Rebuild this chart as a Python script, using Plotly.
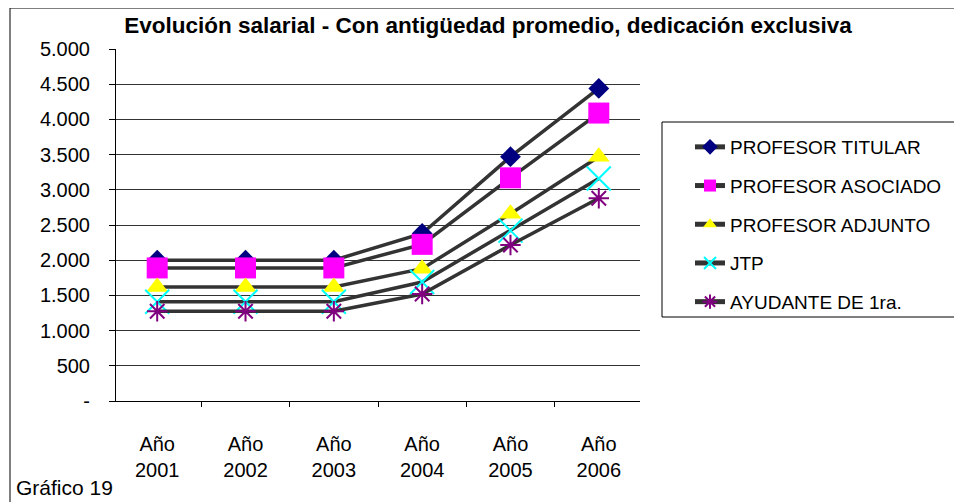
import plotly.graph_objects as go

# data
years = ["Año<br>2001", "Año<br>2002", "Año<br>2003", "Año<br>2004", "Año<br>2005", "Año<br>2006"]
profesor_titular = [2000, 2000, 2000, 2380, 3470, 4440]
profesor_asociado = [1890, 1890, 1890, 2225, 3170, 4090]
profesor_adjunto = [1620, 1620, 1620, 1880, 2660, 3470]
jtp = [1410, 1410, 1410, 1690, 2420, 3160]
ayudante_1ra = [1275, 1275, 1275, 1520, 2215, 2880]

y_ticks = [0, 500, 1000, 1500, 2000, 2500, 3000, 3500, 4000, 4500, 5000]
y_ticktext = ["-", "500", "1.000", "1.500", "2.000", "2.500", "3.000", "3.500", "4.000", "4.500", "5.000"]

# the page body adds an 8px margin, so the figure is shrunk and shifted by that
OFF = 8
W, H = 962 - OFF, 502 - OFF
L, R, T, B = 116 - OFF, 640 - OFF, 49 - OFF, 401 - OFF  # plot area in figure pixels


def px(x):  # x in screen pixels -> paper
    return (x - OFF - L) / (R - L)


def py(y):
    return (B - (y - OFF)) / (B - T)


series = [
    ("PROFESOR TITULAR", profesor_titular, dict(symbol="diamond", size=16, color="#000080")),
    ("PROFESOR ASOCIADO", profesor_asociado, dict(symbol="square", size=21, color="#FF00FF")),
    ("PROFESOR ADJUNTO", profesor_adjunto, dict(symbol="triangle-up", size=19, color="#FFFF00")),
    ("JTP", jtp, dict(symbol="x-thin-open", size=24, color="#00FFFF", line=dict(width=2, color="#00FFFF"))),
    ("AYUDANTE DE 1ra.", ayudante_1ra, dict(symbol="asterisk-open", size=17, color="#800080", line=dict(width=2, color="#800080"))),
]

fig = go.Figure()
for i, (name, vals, mk) in enumerate(series):
    fig.add_trace(go.Scatter(
        x=years, y=vals, name=name, mode="lines+markers",
        line=dict(color="#333333", width=3.5),
        marker=mk, legendgroup=f"g{i}",
    ))

font = "Liberation Sans, Arial, sans-serif"
fig.update_layout(
    width=W, height=H, autosize=False,
    margin=dict(l=L, r=W - R, t=T, b=H - B, autoexpand=False),
    paper_bgcolor="white", plot_bgcolor="white",
    font=dict(family=font, size=20, color="black"),
    title=dict(text="<b>Evolución salarial - Con antigüedad promedio, dedicación exclusiva</b>",
               x=(488 - OFF) / W, xanchor="center", y=1 - (25 - OFF) / H, yanchor="middle",
               font=dict(size=22.5, family=font, color="black")),
    showlegend=True,
    legend=dict(x=px(690), y=py(128), xanchor="left", yanchor="top",
                font=dict(size=19, family=font, color="black"),
                bgcolor="rgba(0,0,0,0)", borderwidth=0,
                tracegroupgap=11, itemsizing="constant"),
)

fig.update_xaxes(
    type="category", tickson="boundaries", ticks="outside", ticklen=5,
    tickcolor="black", showline=True, linecolor="black", linewidth=1,
    showgrid=False, ticklabelstandoff=25,
    tickfont=dict(size=20, family=font, color="black"),
)
fig.update_yaxes(
    range=[0, 5000], tickvals=y_ticks, ticktext=y_ticktext,
    ticks="outside", ticklen=6, tickcolor="black",
    showline=True, linecolor="black", linewidth=1,
    showgrid=False, zeroline=False, ticklabelstandoff=15,
    tickfont=dict(size=20, family=font, color="black"),
    minor=dict(tickvals=y_ticks[1:-1], showgrid=True, gridcolor="#333333", gridwidth=1, ticks=""),
)

# chart border (left/top) and legend box
fig.add_shape(type="line", xref="paper", yref="paper", x0=px(10), x1=px(10), y0=py(8), y1=py(510),
              line=dict(color="black", width=1))
fig.add_shape(type="line", xref="paper", yref="paper", x0=px(10), x1=px(970), y0=py(8), y1=py(8),
              line=dict(color="black", width=1))
fig.add_shape(type="path", xref="paper", yref="paper",
              path=f"M {px(970)},{py(122)} L {px(662)},{py(122)} L {px(662)},{py(317)} L {px(970)},{py(317)}",
              line=dict(color="black", width=1))

fig.add_annotation(text="Gráfico 19", xref="paper", yref="paper", x=px(14), y=py(487),
                   xanchor="left", yanchor="middle", showarrow=False,
                   font=dict(size=21, family=font, color="black"))

fig.write_html("out.html")
